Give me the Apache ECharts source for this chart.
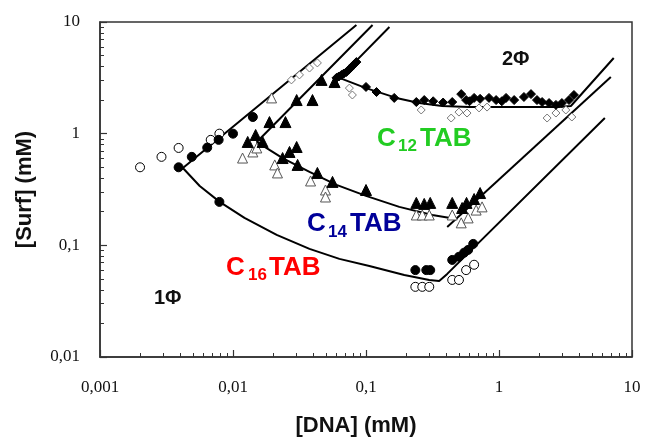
<!DOCTYPE html>
<html lang="en">
<head>
  <meta charset="UTF-8">
  <title>DNA / Surf phase diagram</title>
  <script src="https://cdn.jsdelivr.net/npm/echarts@6/dist/echarts.min.js"></script>
  <style type="text/css">
    html, body { margin: 0; padding: 0; background: #fff; }
    #main { width: 646px; height: 442px; }
  </style>
</head>
<body>
  <div id="main"></div>
  <script type="text/javascript">
    // [DNA] (mM), [Surf] (mM)
    var c16Filled = [[0.0039,0.50],[0.0049,0.62],[0.0064,0.75],[0.0078,0.88],[0.010,1.0],[0.0141,1.41],
      [0.0079,0.245],[0.235,0.060],[0.284,0.060],[0.304,0.060],[0.445,0.074],[0.50,0.079],[0.547,0.086],
      [0.586,0.091],[0.64,0.103]];
    var c16Open = [[0.0020,0.50],[0.0029,0.62],[0.0039,0.745],[0.0068,0.88],[0.0079,1.0],[0.235,0.0425],
      [0.265,0.0425],[0.299,0.0425],[0.445,0.049],[0.50,0.049],[0.566,0.060],[0.65,0.067]];
    var c14Filled = [[0.0129,0.843],[0.0148,0.974],[0.0167,0.843],[0.0188,1.27],[0.0248,1.27],[0.0301,2.0],
      [0.0396,2.0],[0.0463,3.03],[0.058,2.90],[0.0236,0.605],[0.0266,0.686],[0.0301,0.760],[0.0306,0.525],
      [0.0431,0.445],[0.056,0.370],[0.1,0.313],[0.239,0.240],[0.274,0.235],[0.304,0.240],[0.445,0.240],
      [0.528,0.216],[0.570,0.240],[0.650,0.260],[0.721,0.294]];
    var c14Open = [[0.0118,0.605],[0.0141,0.686],[0.0151,0.745],[0.0206,0.525],[0.0216,0.445],[0.0195,2.09],
      [0.0383,0.377],[0.0496,0.313],[0.0496,0.271],[0.239,0.187],[0.265,0.187],[0.299,0.187],[0.445,0.187],
      [0.520,0.159],[0.586,0.176],[0.673,0.207],[0.746,0.221]];
    var c12Filled = [[0.060,3.16],[0.0625,3.25],[0.0654,3.36],[0.068,3.45],[0.0713,3.57],[0.0745,3.75],
      [0.0777,3.95],[0.081,4.15],[0.0847,4.38],[0.1,2.62],[0.12,2.36],[0.163,2.09],[0.239,1.92],[0.274,2.0],
      [0.32,1.95],[0.38,1.90],[0.445,1.92],[0.52,2.26],[0.566,2.0],[0.60,1.95],[0.65,2.09],[0.721,2.05],
      [0.841,2.09],[0.951,2.0],[1.05,1.95],[1.13,2.09],[1.30,2.0],[1.54,2.13],[1.74,2.26],[1.93,2.0],
      [2.11,1.92],[2.38,1.88],[2.68,1.81],[2.97,1.88],[3.36,2.0],[3.66,2.22]];
    var c12Open = [[0.0275,3.03],[0.0316,3.36],[0.0376,3.87],[0.0431,4.30],[0.075,2.56],[0.079,2.22],
      [0.26,1.63],[0.437,1.38],[0.50,1.56],[0.575,1.53],[0.708,1.70],[0.813,1.73],[2.30,1.38],[2.68,1.53],
      [3.18,1.63],[3.53,1.41]];

    // fitted boundaries
    var c16Fit = [[0.0847,9.40],[0.0042,0.493],[0.00562,0.340],[0.00794,0.245],[0.0122,0.176],[0.0213,0.124],
      [0.0376,0.0929],[0.0631,0.0756],[0.106,0.0654],[0.194,0.0543],[0.299,0.049],[0.355,0.048],
      [0.408,0.0555],[6.25,1.38]];
    var c14Fit = [[0.112,9.40],[0.0151,0.843],[0.0188,0.715],[0.0236,0.605],[0.0376,0.454],[0.060,0.348],
      [0.1,0.277],[0.178,0.221],[0.315,0.187],[0.477,0.172]];
    var c14Rise = [[0.408,0.146],[6.93,3.22]];
    var c12Fit = [[0.150,9.02],[0.0631,3.16],[0.1,2.56],[0.169,2.09],[0.251,1.88],[0.374,1.77],[0.596,1.73],
      [1.0,1.73],[1.90,1.73],[2.82,1.73],[3.47,1.77],[7.29,4.76]];

    // minor tick positions (2..9 in each decade)
    var xMinorTicks = [0.002,0.003,0.004,0.005,0.006,0.007,0.008,0.009,
      0.02,0.03,0.04,0.05,0.06,0.07,0.08,0.09,
      0.2,0.3,0.4,0.5,0.6,0.7,0.8,0.9,
      2,3,4,5,6,7,8,9];
    var yMinorTicks = [0.02,0.03,0.04,0.05,0.06,0.07,0.08,0.09,
      0.2,0.3,0.4,0.5,0.6,0.7,0.8,0.9,
      2,3,4,5,6,7,8,9];

    var myChart = echarts.init(document.getElementById('main'));

    function fmt(v) {
      return parseFloat(v.toPrecision(3)).toString().replace('.', ',');
    }

    function fitLine(data) {
      return {
        type: 'line', data: data, showSymbol: false, symbol: 'none', silent: true,
        lineStyle: { color: '#000', width: 2 }, z: 2
      };
    }

    function dots(data, symbol, size, fill, border) {
      return {
        type: 'scatter', data: data, symbol: symbol, symbolSize: size, z: 3,
        itemStyle: { color: fill, borderColor: border, borderWidth: 1, opacity: 1 }
      };
    }

    var serif = 'Liberation Serif';
    var sans = 'Liberation Sans';

    function mainAxis(min, max, name, gap, margin, pad) {
      return {
        type: 'log', logBase: 10, min: min, max: max,
        axisLine: { show: true, lineStyle: { color: '#333', width: 1.5 } },
        axisTick: { show: true, inside: true, length: 7, lineStyle: { color: '#333', width: 1.2 } },
        splitLine: { show: false },
        axisLabel: { fontFamily: serif, fontSize: 17, color: '#111', margin: margin, formatter: fmt },
        name: name, nameLocation: 'middle', nameGap: gap,
        nameTextStyle: { fontFamily: sans, fontWeight: 'bold', fontSize: 22, color: '#111', padding: pad }
      };
    }

    function minorAxis(min, max, ticks) {
      return {
        type: 'log', logBase: 10, min: min, max: max,
        axisLine: { show: false },
        axisTick: { show: true, inside: true, length: 4, customValues: ticks,
          lineStyle: { color: '#333', width: 1 } },
        axisLabel: { show: false },
        splitLine: { show: false }
      };
    }

    var xMain = mainAxis(0.001, 10, '[DNA] (mM)', 58, 22, [0, 20, 0, 0]);
    var yMain = mainAxis(0.01, 10, '[Surf] (mM)', 64, 20, [0, 0, 0, 0]);
    var xMinor = minorAxis(0.001, 10, xMinorTicks);
    xMinor.position = 'bottom';
    var yMinor = minorAxis(0.01, 10, yMinorTicks);
    yMinor.position = 'left';

    var option = {
      animation: false,
      grid: { left: 100, right: 14, top: 22, bottom: 85, show: true, borderColor: '#333', borderWidth: 1.5 },
      xAxis: [xMain, xMinor],
      yAxis: [yMain, yMinor],
      series: [
        fitLine(c16Fit),
        fitLine(c14Fit),
        fitLine(c14Rise),
        fitLine(c12Fit),
        dots(c12Open, 'diamond', 8, '#fff', '#777'),
        dots(c14Open, 'triangle', 10, '#fff', '#555'),
        dots(c16Open, 'circle', 9, '#fff', '#000'),
        dots(c12Filled, 'diamond', 9, '#000', '#000'),
        dots(c14Filled, 'triangle', 11, '#000', '#000'),
        dots(c16Filled, 'circle', 9, '#000', '#000')
      ],
      graphic: [
        { type: 'text', left: 377, top: 126, style: { text: 'C', fill: '#22cc22', font: 'bold 26px ' + sans } },
        { type: 'text', left: 398, top: 138, style: { text: '12', fill: '#22cc22', font: 'bold 17px ' + sans } },
        { type: 'text', left: 420, top: 126, style: { text: 'TAB', fill: '#22cc22', font: 'bold 26px ' + sans } },
        { type: 'text', left: 307, top: 211, style: { text: 'C', fill: '#000099', font: 'bold 26px ' + sans } },
        { type: 'text', left: 328, top: 224, style: { text: '14', fill: '#000099', font: 'bold 17px ' + sans } },
        { type: 'text', left: 350, top: 211, style: { text: 'TAB', fill: '#000099', font: 'bold 26px ' + sans } },
        { type: 'text', left: 226, top: 255, style: { text: 'C', fill: '#ff0000', font: 'bold 26px ' + sans } },
        { type: 'text', left: 248, top: 267, style: { text: '16', fill: '#ff0000', font: 'bold 17px ' + sans } },
        { type: 'text', left: 269, top: 255, style: { text: 'TAB', fill: '#ff0000', font: 'bold 26px ' + sans } },
        { type: 'text', left: 502, top: 49, style: { text: '2Φ', fill: '#111', font: 'bold 20px ' + sans } },
        { type: 'text', left: 154, top: 288, style: { text: '1Φ', fill: '#111', font: 'bold 20px ' + sans } }
      ]
    };

    myChart.setOption(option);
  </script>
</body>
</html>
